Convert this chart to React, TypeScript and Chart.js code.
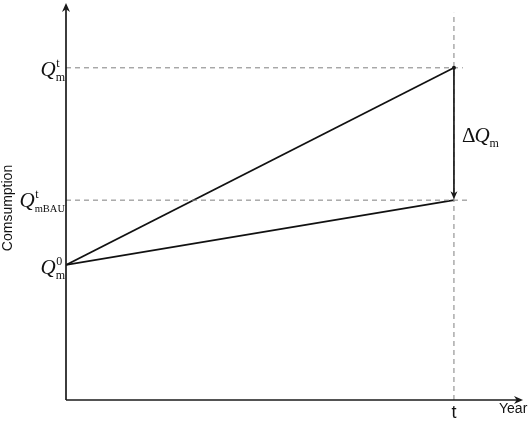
import React, { useEffect, useRef } from "react";
import { Chart, registerables } from "chart.js";

Chart.register(...registerables);

// Data (arbitrary units, Q0 normalised to 1)
const yearPoints = [0, 1]; // start year, year t
const Q0 = 1.0;
const QBAU = 1.48;
const Qt = 2.46;
const xMax = 1.178;
const yMax = 2.94;
const refLineEndTop = 1.023;
const refLineEndBAU = 1.04;
const refVerticalTop = 2.867;

const seriesGrowth = [Q0, Qt];
const seriesBAU = [Q0, QBAU];

const AXIS_COLOR = "#1a1a1a";
const DASH_COLOR = "#7f7f7f";

function drawArrowHead(ctx: CanvasRenderingContext2D, x: number, y: number, angle: number, len: number, w: number) {
  ctx.save();
  ctx.translate(x, y);
  ctx.rotate(angle);
  ctx.beginPath();
  ctx.moveTo(0, 0);
  ctx.lineTo(-len, -w);
  ctx.lineTo(-len * 0.7, 0);
  ctx.lineTo(-len, w);
  ctx.closePath();
  ctx.fill();
  ctx.restore();
}

function drawQ(ctx: CanvasRenderingContext2D, rightX: number, baseY: number, sub: string, sup: string, subSize: number) {
  const qFont = "italic 21px 'Liberation Serif'";
  const sFont = subSize + "px 'Liberation Serif'";
  ctx.font = sFont;
  const subW = ctx.measureText(sub).width;
  ctx.font = qFont;
  const qW = ctx.measureText("Q").width;
  const qx = rightX - subW - qW;
  ctx.fillText("Q", qx, baseY);
  ctx.font = sFont;
  ctx.fillText(sub, qx + qW, baseY + 5);
  ctx.font = "12px 'Liberation Serif'";
  ctx.fillText(sup, qx + qW + 0.5, baseY - 9);
}

const overlay = {
  id: "overlay",
  afterDatasetsDraw(chart: any) {
    const ctx: CanvasRenderingContext2D = chart.ctx;
    const xs = chart.scales.x;
    const ys = chart.scales.y;
    const { left, right, top, bottom } = chart.chartArea;
    ctx.save();
    ctx.strokeStyle = AXIS_COLOR;
    ctx.fillStyle = AXIS_COLOR;
    ctx.lineWidth = 1.7;
    // y axis
    ctx.beginPath();
    ctx.moveTo(left, bottom);
    ctx.lineTo(left, top + 2);
    ctx.stroke();
    drawArrowHead(ctx, left, top, -Math.PI / 2, 9, 4);
    // x axis
    ctx.beginPath();
    ctx.moveTo(left, bottom);
    ctx.lineTo(right - 2, bottom);
    ctx.stroke();
    drawArrowHead(ctx, right, bottom, 0, 9, 4);

    // delta arrow
    const tx = xs.getPixelForValue(yearPoints[1]);
    const yTop = ys.getPixelForValue(Qt);
    const yBau = ys.getPixelForValue(QBAU);
    ctx.lineWidth = 1.7;
    ctx.beginPath();
    ctx.moveTo(tx, yTop);
    ctx.lineTo(tx, yBau - 4);
    ctx.stroke();
    drawArrowHead(ctx, tx, yBau - 1, Math.PI / 2, 8, 3.5);
    ctx.beginPath();
    ctx.arc(tx, yTop, 2, 0, Math.PI * 2);
    ctx.fill();

    // labels
    ctx.fillStyle = "#111";
    ctx.textBaseline = "alphabetic";
    ctx.textAlign = "left";
    drawQ(ctx, 65, ys.getPixelForValue(Qt) + 8, "m", "t", 12);
    drawQ(ctx, 65, ys.getPixelForValue(QBAU) + 7, "mBAU", "t", 10.5);
    drawQ(ctx, 65, ys.getPixelForValue(Q0) + 9, "m", "0", 12);

    // delta Q label
    ctx.font = "21px 'Liberation Serif'";
    const dW = ctx.measureText("\u0394").width;
    const dx = tx + 8;
    const dy = (yTop + yBau) / 2 + 8;
    ctx.fillText("\u0394", dx, dy);
    ctx.font = "italic 21px 'Liberation Serif'";
    const qW = ctx.measureText("Q").width;
    ctx.fillText("Q", dx + dW - 1, dy);
    ctx.font = "12px 'Liberation Serif'";
    ctx.fillText("m", dx + dW - 1 + qW, dy + 5);

    // x labels
    ctx.font = "18px 'Liberation Sans'";
    ctx.textAlign = "center";
    ctx.fillText("t", tx, bottom + 18);
    ctx.font = "14px 'Liberation Sans'";
    ctx.textAlign = "left";
    ctx.fillText("Year", 499, bottom + 13);

    // y title
    ctx.save();
    ctx.translate(12, 208);
    ctx.rotate(-Math.PI / 2);
    ctx.textAlign = "center";
    ctx.font = "14px 'Liberation Sans'";
    ctx.fillText("Comsumption", 0, 0);
    ctx.restore();

    ctx.restore();
  },
};

export default function App() {
  const ref = useRef<HTMLCanvasElement | null>(null);
  useEffect(() => {
    document.body.style.margin = "0";
    if (!ref.current) return;
    const dashed = {
      borderColor: DASH_COLOR,
      borderWidth: 1,
      borderDash: [5, 4],
      pointRadius: 0,
      fill: false,
    };
    const chart = new Chart(ref.current, {
      type: "line",
      data: {
        datasets: [
          {
            ...dashed,
            data: [
              { x: 0, y: Qt },
              { x: refLineEndTop, y: Qt },
            ],
          },
          {
            ...dashed,
            data: [
              { x: 0, y: QBAU },
              { x: refLineEndBAU, y: QBAU },
            ],
          },
          {
            ...dashed,
            data: [
              { x: yearPoints[1], y: 0 },
              { x: yearPoints[1], y: refVerticalTop },
            ],
          },
          {
            borderColor: "#111",
            borderWidth: 1.7,
            pointRadius: 0,
            data: yearPoints.map((x, i) => ({ x, y: seriesGrowth[i] })),
          },
          {
            borderColor: "#111",
            borderWidth: 1.7,
            pointRadius: 0,
            data: yearPoints.map((x, i) => ({ x, y: seriesBAU[i] })),
          },
        ],
      },
      options: {
        animation: false,
        responsive: false,
        layout: { padding: { left: 66, top: 3, right: 9, bottom: 22 } },
        plugins: { legend: { display: false }, tooltip: { enabled: false } },
        scales: {
          x: { type: "linear", min: 0, max: xMax, display: false },
          y: { type: "linear", min: 0, max: yMax, display: false },
        },
      },
      plugins: [overlay],
    });
    return () => chart.destroy();
  }, []);
  return (
    <div style={{ width: 532, height: 422, background: "#fff" }}>
      <canvas ref={ref} width={532} height={422} />
    </div>
  );
}
